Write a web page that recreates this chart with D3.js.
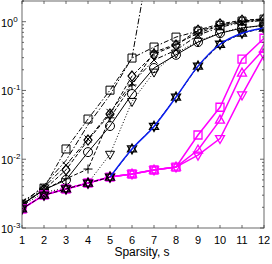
<!DOCTYPE html>
<html>
<head>
<meta charset="utf-8">
<script src="https://cdn.jsdelivr.net/npm/d3@7"></script>
<style>
body { margin: 0; background: #fff; }
svg { display: block; font-family: "Liberation Sans", Arial, sans-serif; }
</style>
</head>
<body>
<script>
var width = 272, height = 264

// x values (sparsity)
var sparsity = [1, 2, 3, 4, 5, 6, 7, 8, 9, 10, 11, 12]
var xTicks = [1, 2, 3, 4, 5, 6, 7, 8, 9, 10, 11, 12]
var yTicks = [1e-3, 1e-2, 1e-1, 1]
var yTickExp = ["-3", "-2", "-1", "0"]

// black series
var sqVals = [0.00216, 0.0038, 0.0141, 0.0384, 0.101, 0.296, 0.428, 0.597, 0.73, 0.89, 1.02, 1.09]
var steepVals = [0.0022, 0.0042, 0.0096, 0.0316, 0.086, 0.30, 19]
var diaVals = [0.00216, 0.0036, 0.007, 0.019, 0.0454, 0.162, 0.338, 0.457, 0.755, 0.93, 1.05, 1.1]
var xVals = [0.0024, 0.0039, 0.0082, 0.0197, 0.048, 0.128, 0.277, 0.386, 0.638, 0.83, 0.98, 1.04]
var circVals = [0.0022, 0.0036, 0.005, 0.0127, 0.0304, 0.0888, 0.212, 0.33, 0.505, 0.68, 0.81, 0.89]
var triDnVals = [0.0021, 0.0033, 0.0038, 0.0045, 0.0118, 0.069, 0.185, 0.35, 0.52, 0.69, 0.82, 0.87]
var plusVals = [0.0022, 0.0036, 0.0052, 0.0072, 0.04, 0.12, 0.36, 0.47, 0.68, 0.88, 1.0, 1.06]
var hexVals = [0.0019, 0.003, 0.0037, 0.0045, 0.0055, 0.0141, 0.030, 0.080, 0.226, 0.47, 0.68, 0.81]

// blue curve (s = 5..12)
var blueS = [5, 6, 7, 8, 9, 10, 11, 12]
var blueVals = [0.0055, 0.0141, 0.030, 0.080, 0.226, 0.47, 0.68, 0.81]

// magenta series
var magSq = [0.00189, 0.00302, 0.00369, 0.00451, 0.00551, 0.0061, 0.00697, 0.0077, 0.0225, 0.057, 0.286, 0.575]
var magUp = [0.00189, 0.00302, 0.00369, 0.00451, 0.00551, 0.0061, 0.00697, 0.0077, 0.0136, 0.037, 0.179, 0.40]
var magDn = [0.00189, 0.00302, 0.00369, 0.00451, 0.00551, 0.0061, 0.00697, 0.0077, 0.0115, 0.020, 0.086, 0.327]

var margin = {left: 22, right: 8, top: 1, bottom: 36}

var x = d3.scaleLinear().domain([1, 12]).range([margin.left, width - margin.right])
var y = d3.scaleLog().domain([1e-3, 2]).range([height - margin.bottom, margin.top])

var svg = d3.select("body").append("svg")
	.attr("width", width)
	.attr("height", height)

svg.append("defs").append("clipPath")
	.attr("id", "plotClip")
	.append("rect")
	.attr("x", x(1)).attr("y", y(2))
	.attr("width", x(12) - x(1)).attr("height", y(1e-3) - y(2))

var markers = {
	square: "M-4,-4H4V4H-4Z",
	circle: "M4.5,0A4.5,4.5 0 1,1 -4.5,0A4.5,4.5 0 1,1 4.5,0Z",
	triUp: "M0,-5L4.5,3L-4.5,3Z",
	triDn: "M0,5L4.5,-3L-4.5,-3Z",
	x: "M-3.5,-3.5L3.5,3.5M-3.5,3.5L3.5,-3.5",
	plus: "M-4.5,0H4.5M0,-4.5V4.5",
	diamond: "M0,-5L4,0L0,5L-4,0Z",
	hex: "M0,-5L4.5,3L-4.5,3ZM0,5L4.5,-3L-4.5,-3Z"
}

var plot = svg.append("g").attr("clip-path", "url(#plotClip)")

function drawSeries(xs, vals, opts) {
	var pts = vals.map(function(v, i) { return [xs[i], v] })
	var line = d3.line()
		.x(function(d) { return x(d[0]) })
		.y(function(d) { return y(d[1]) })
	if (opts.curve) line.curve(opts.curve)
	plot.append("path")
		.datum(pts)
		.attr("fill", "none")
		.attr("stroke", opts.color)
		.attr("stroke-width", opts.width || 1)
		.attr("stroke-dasharray", opts.dash || null)
		.attr("d", line)
	if (opts.marker) {
		plot.selectAll(null)
			.data(pts)
			.enter()
			.append("path")
			.attr("transform", function(d) { return "translate(" + x(d[0]) + "," + y(d[1]) + ")" })
			.attr("d", markers[opts.marker])
			.attr("fill", "none")
			.attr("stroke", opts.mcolor || opts.color)
			.attr("stroke-width", opts.mwidth || 1)
	}
}

// black lines
drawSeries(sparsity, steepVals, {color: "#000", dash: "6,2,1.5,2"})
drawSeries(sparsity, sqVals, {color: "#000", dash: "5,2,1.5,2", marker: "square"})
drawSeries(sparsity, triDnVals, {color: "#000", dash: "1,2", marker: "triDn"})
drawSeries(sparsity, circVals, {color: "#000", marker: "circle"})
drawSeries(sparsity, plusVals, {color: "#000", dash: "4,2", marker: "plus"})
drawSeries(sparsity, xVals, {color: "#000", dash: "5,2,1.5,2", marker: "x"})
drawSeries(sparsity, diaVals, {color: "#000", dash: "4,2", marker: "diamond", mwidth: 1.2})

// magenta
drawSeries(sparsity, magSq, {color: "#ff00ff", width: 1.5, marker: "square", mwidth: 1.3})
drawSeries(sparsity, magUp, {color: "#ff00ff", width: 1.5, marker: "triUp", mwidth: 1.3})
drawSeries(sparsity, magDn, {color: "#ff00ff", width: 1.5, marker: "triDn", mwidth: 1.3})

// hexagram + blue curve
drawSeries(sparsity, hexVals, {color: "#000", dash: "4,2", marker: "hex", mwidth: 1.3})
drawSeries(blueS, blueVals, {color: "#0a1ef0", width: 1.5, curve: d3.curveMonotoneX})

// axes box
var axisColor = "#444"
var gAx = svg.append("g")
gAx.append("rect")
	.attr("x", x(1)).attr("y", y(2))
	.attr("width", x(12) - x(1)).attr("height", y(1e-3) - y(2))
	.attr("fill", "none").attr("stroke", axisColor).attr("stroke-width", 0.8)

// x ticks (bottom and top, inward)
gAx.selectAll(".xt")
	.data(xTicks)
	.enter()
	.append("path")
	.attr("d", function(t) {
		return "M" + x(t) + "," + y(1e-3) + "v-3M" + x(t) + "," + y(2) + "v3"
	})
	.attr("stroke", axisColor).attr("stroke-width", 0.8)

gAx.selectAll(".xl")
	.data(xTicks)
	.enter()
	.append("text")
	.attr("x", function(t) { return x(t) })
	.attr("y", 244)
	.attr("text-anchor", "middle")
	.attr("font-size", 11)
	.text(function(t) { return t })

// y ticks, major and minor (left and right)
var minor = []
for (var e = -3; e < 1; e++) {
	for (var m = 2; m <= 9; m++) minor.push(m * Math.pow(10, e))
}
minor.push(2 * 1)
gAx.selectAll(".ymin")
	.data(minor.filter(function(v) { return v <= 2 }))
	.enter()
	.append("path")
	.attr("d", function(v) {
		return "M" + x(1) + "," + y(v) + "h2M" + x(12) + "," + y(v) + "h-2"
	})
	.attr("stroke", axisColor).attr("stroke-width", 0.8)

gAx.selectAll(".ymaj")
	.data(yTicks)
	.enter()
	.append("path")
	.attr("d", function(v) {
		return "M" + x(1) + "," + y(v) + "h4M" + x(12) + "," + y(v) + "h-4"
	})
	.attr("stroke", axisColor).attr("stroke-width", 0.8)

var yl = gAx.selectAll(".yl")
	.data(yTicks)
	.enter()
	.append("text")
	.attr("x", 1)
	.attr("y", function(v) { return y(v) + 5 })
	.attr("font-size", 11)
yl.append("tspan").text("10")
yl.append("tspan")
	.attr("dy", -5)
	.attr("font-size", 8)
	.text(function(v, i) { return yTickExp[i] })

svg.append("text")
	.attr("x", 142)
	.attr("y", 256)
	.attr("text-anchor", "middle")
	.attr("font-size", 12)
	.text("Sparsity, s")
</script>
</body>
</html>
